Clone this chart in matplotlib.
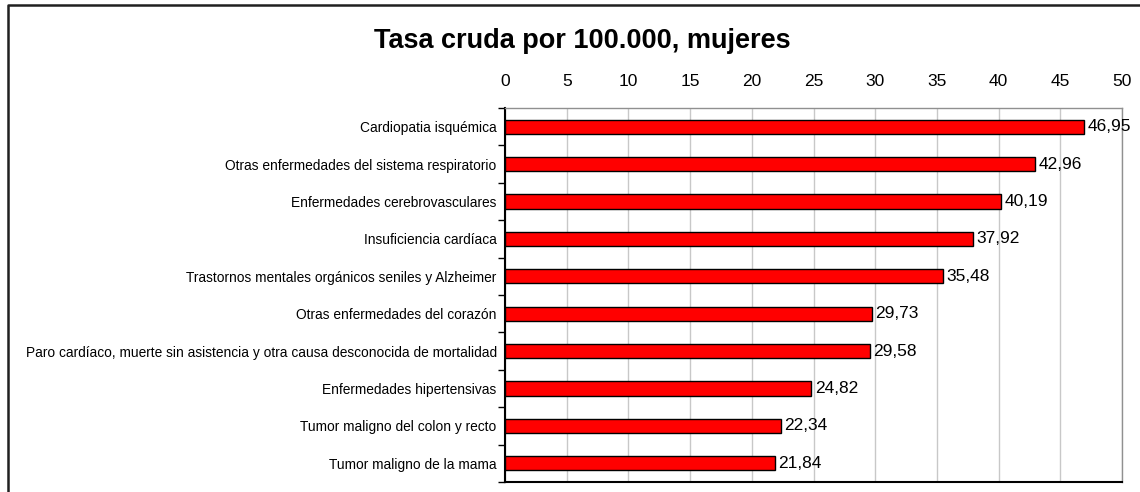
import matplotlib
matplotlib.use("Agg")
import matplotlib.pyplot as plt
from matplotlib.lines import Line2D
import numpy as np

categories = [
    "Cardiopatia isquémica",
    "Otras enfermedades del sistema respiratorio",
    "Enfermedades cerebrovasculares",
    "Insuficiencia cardíaca",
    "Trastornos mentales orgánicos seniles y Alzheimer",
    "Otras enfermedades del corazón",
    "Paro cardíaco, muerte sin asistencia y otra causa desconocida de mortalidad",
    "Enfermedades hipertensivas",
    "Tumor maligno del colon y recto",
    "Tumor maligno de la mama",
]
values = [46.95, 42.96, 40.19, 37.92, 35.48, 29.73, 29.58, 24.82, 22.34, 21.84]
x_ticks = [0, 5, 10, 15, 20, 25, 30, 35, 40, 45, 50]
title = "Tasa cruda por 100.000, mujeres"

W, H = 1140, 492
fig = plt.figure(figsize=(W / 100, H / 100), dpi=100)
ax = fig.add_axes([505 / W, 1 - 482 / H, (1122 - 505) / W, (482 - 108) / H])

y = np.arange(len(categories))
ax.barh(y, values, height=0.38, color="#ff0000", edgecolor="black", linewidth=1.0, zorder=3)
ax.set_ylim(len(categories) - 0.5, -0.5)
ax.set_xlim(0, 50)

ax.xaxis.tick_top()
ax.set_xticks(x_ticks)
ax.set_xticklabels([str(t) for t in x_ticks], fontsize=12.5, family=["Liberation Sans", "DejaVu Sans"])
ax.tick_params(axis="x", length=0, pad=14)
ax.grid(axis="x", color="#c8c8c8", linewidth=1.0, zorder=0)

ax.set_yticks(y)
ax.set_yticklabels(categories, fontsize=9.95, family=["Liberation Sans", "DejaVu Sans"])
ax.tick_params(axis="y", which="major", length=0, pad=6)
ax.set_yticks(np.arange(-0.5, len(categories), 1.0), minor=True)
ax.tick_params(axis="y", which="minor", length=5, width=1, color="black", direction="out")

for s in ["top", "right"]:
    ax.spines[s].set_color("#909090")
    ax.spines[s].set_linewidth(1.0)
ax.spines["left"].set_color("black")
ax.spines["left"].set_linewidth(1.5)
ax.spines["bottom"].set_color("black")
ax.spines["bottom"].set_linewidth(1.5)

for yi, v in zip(y, values):
    ax.annotate(f"{v:.2f}".replace(".", ","), (v, yi), xytext=(2.5, 0), textcoords="offset points",
                va="center", ha="left", fontsize=12.5, family=["Liberation Sans", "DejaVu Sans"], zorder=4)

fig.text(582 / W, 1 - 41 / H, title, ha="center", va="center", fontsize=19.5, fontweight="bold",
         family=["Liberation Sans", "DejaVu Sans"])

fig.add_artist(Line2D([8 / W, 8 / W, 1.0], [0.0, 1 - 5 / H, 1 - 5 / H], transform=fig.transFigure,
                      color="#202020", linewidth=1.8))

fig.savefig("out.png", dpi=100)
